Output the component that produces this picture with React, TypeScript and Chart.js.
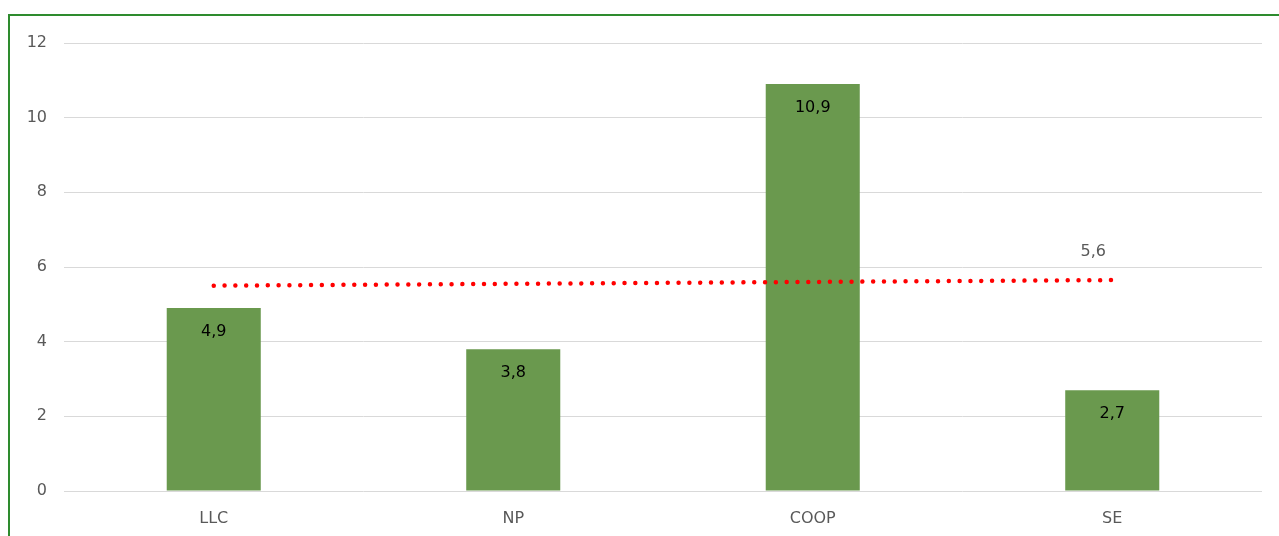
import React, { useEffect, useRef } from "react";
import { Chart, registerables } from "chart.js";

Chart.register(...registerables);

const categories = ["LLC", "NP", "COOP", "SE"];
const barValues = [4.9, 3.8, 10.9, 2.7];
const trendValues = [5.5, 5.55, 5.6, 5.65];
const trendLabel = "5,6";
const yTicks = [0, 2, 4, 6, 8, 10, 12];

const FONT = "'DejaVu Sans', Verdana, sans-serif";

const labelPlugin = {
  id: "customLabels",
  afterDatasetsDraw(chart: any) {
    const ctx = chart.ctx;
    ctx.save();
    ctx.textAlign = "center";
    ctx.textBaseline = "middle";
    const barMeta = chart.getDatasetMeta(0);
    ctx.font = `16px ${FONT}`;
    ctx.fillStyle = "#000000";
    barMeta.data.forEach((el: any, i: number) => {
      const txt = String(barValues[i]).replace(".", ",");
      ctx.fillText(txt, el.x, el.y + 24);
    });
    const lineMeta = chart.getDatasetMeta(1);
    const last = lineMeta.data[lineMeta.data.length - 1];
    ctx.fillStyle = "#595959";
    ctx.fillText(trendLabel, last.x - 19, last.y - 28);
    ctx.restore();
  },
};

export default function App() {
  const ref = useRef<HTMLCanvasElement>(null);
  useEffect(() => {
    if (!ref.current) return;
    const chart = new Chart(ref.current, {
      type: "bar",
      data: {
        labels: categories,
        datasets: [
          {
            type: "bar",
            data: barValues,
            backgroundColor: "#6A994E",
            barPercentage: 0.314,
            categoryPercentage: 1,
            order: 2,
          },
          {
            type: "line",
            data: trendValues,
            borderColor: "#FF0000",
            borderWidth: 4.5,
            borderDash: [0.01, 10.8],
            borderCapStyle: "round",
            pointRadius: 0,
            fill: false,
            tension: 0,
            order: 1,
          } as any,
        ],
      },
      options: {
        animation: false,
        responsive: false,
        maintainAspectRatio: false,
        layout: { padding: { left: 0, right: 17, top: 43, bottom: 0 } },
        plugins: {
          legend: { display: false },
          tooltip: { enabled: false },
        },
        scales: {
          x: {
            grid: { display: false, drawTicks: false },
            border: { display: false },
            ticks: {
              color: "#595959",
              font: { family: FONT, size: 16 },
              padding: 18,
            },
            afterFit: (s: any) => {
              s.height = 45;
            },
          },
          y: {
            min: 0,
            max: 12,
            afterBuildTicks: (s: any) => {
              s.ticks = yTicks.map((v) => ({ value: v }));
            },
            grid: { color: "#d9d9d9", lineWidth: 1, drawTicks: false },
            border: { display: false },
            ticks: {
              color: "#595959",
              font: { family: FONT, size: 16 },
              padding: 17,
            },
            afterFit: (s: any) => {
              s.width = 64;
            },
          },
        },
      },
      plugins: [labelPlugin],
    });
    return () => chart.destroy();
  }, []);

  return (
    <div
      style={{
        position: "fixed",
        left: 0,
        top: 0,
        width: 1279,
        height: 536,
        overflow: "hidden",
        background: "#fff",
      }}
    >
      <div
        style={{
          position: "absolute",
          left: 8,
          top: 14,
          width: 1320,
          height: 600,
          border: "2px solid #2E8B2E",
          boxSizing: "border-box",
        }}
      />
      <canvas
        ref={ref}
        width={1279}
        height={536}
        style={{ position: "absolute", left: 0, top: 0 }}
      />
    </div>
  );
}
